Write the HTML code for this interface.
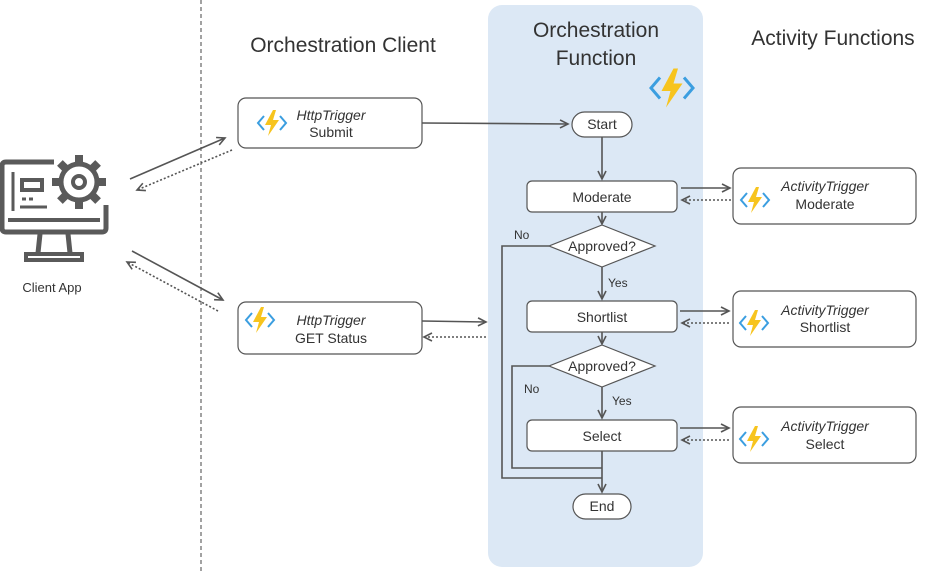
<!DOCTYPE html><html><head><style>body{margin:0;background:#fff}svg{display:block}text{font-family:"Liberation Sans",sans-serif;fill:#333}</style></head><body>
<svg width="937" height="572" viewBox="0 0 937 572" xmlns="http://www.w3.org/2000/svg">
<defs>
<marker id="a" markerWidth="12" markerHeight="12" refX="9" refY="5" orient="auto" markerUnits="userSpaceOnUse"><path d="M1,1 L9,5 L1,9" fill="none" stroke="#555" stroke-width="1.6"/></marker>
<g id="fn"><path d="M-8,-7 L-14,0 L-8,7 M8,-7 L14,0 L8,7" fill="none" stroke="#3b9ee0" stroke-width="2"/><path d="M1,-13 L-7,2 L-1,2 L-4,13 L7,-3 L1,-3 L4,-13Z" fill="#f7c41e"/></g>
<rect id="tooth" x="-4" y="-27" width="8" height="10" fill="#5a5a5a"/>
</defs>
<rect x="488" y="5" width="215" height="562" rx="14" fill="#dce8f5"/>
<line x1="201" y1="0" x2="201" y2="572" stroke="#444" stroke-dasharray="4,3"/>
<text x="343" y="52" font-size="21" text-anchor="middle">Orchestration Client</text>
<text x="596" y="37" font-size="21" text-anchor="middle">Orchestration</text>
<text x="596" y="65" font-size="21" text-anchor="middle">Function</text>
<text x="833" y="45" font-size="21" text-anchor="middle">Activity Functions</text>
<use href="#fn" transform="translate(672,88) scale(1.5)"/>
<g fill="none" stroke="#555" stroke-width="1.2">
<rect x="238" y="98" width="184" height="50" rx="8" fill="#fff"/>
<rect x="238" y="302" width="184" height="52" rx="8" fill="#fff"/>
<rect x="733" y="168" width="183" height="56" rx="8" fill="#fff"/>
<rect x="733" y="291" width="183" height="56" rx="8" fill="#fff"/>
<rect x="733" y="407" width="183" height="56" rx="8" fill="#fff"/>
<rect x="572" y="112" width="60" height="25" rx="12.5" fill="#fff"/>
<rect x="573" y="494" width="58" height="25" rx="12.5" fill="#fff"/>
<rect x="527" y="181" width="150" height="31" rx="5" fill="#fff"/>
<rect x="527" y="301" width="150" height="31" rx="5" fill="#fff"/>
<rect x="527" y="420" width="150" height="31" rx="5" fill="#fff"/>
<path d="M602,225 L655,246 L602,267 L549,246Z" fill="#fff"/>
<path d="M602,345 L655,366 L602,387 L549,366Z" fill="#fff"/>
</g>
<g fill="none" stroke="#555" stroke-width="1.6">
<line x1="130" y1="179" x2="225" y2="138" marker-end="url(#a)"/>
<line x1="232" y1="150" x2="137" y2="190" stroke-dasharray="2,2" marker-end="url(#a)"/>
<line x1="132" y1="251" x2="223" y2="300" marker-end="url(#a)"/>
<line x1="218" y1="311" x2="127" y2="262" stroke-dasharray="2,2" marker-end="url(#a)"/>
<line x1="422" y1="123" x2="568" y2="124" marker-end="url(#a)"/>
<line x1="422" y1="321" x2="486" y2="322" marker-end="url(#a)"/>
<line x1="486" y1="337" x2="424" y2="337" stroke-dasharray="2,2" marker-end="url(#a)"/>
<line x1="602" y1="137" x2="602" y2="179" marker-end="url(#a)"/>
<line x1="602" y1="212" x2="602" y2="224" marker-end="url(#a)"/>
<line x1="602" y1="267" x2="602" y2="299" marker-end="url(#a)"/>
<line x1="602" y1="332" x2="602" y2="344" marker-end="url(#a)"/>
<line x1="602" y1="387" x2="602" y2="418" marker-end="url(#a)"/>
<line x1="602" y1="451" x2="602" y2="492" marker-end="url(#a)"/>
<path d="M549,246 H502 V478 H602"/>
<path d="M549,366 H512 V468 H602"/>
<line x1="681" y1="188" x2="730" y2="188" marker-end="url(#a)"/>
<line x1="731" y1="200" x2="682" y2="200" stroke-dasharray="2,2" marker-end="url(#a)"/>
<line x1="680" y1="311" x2="729" y2="311" marker-end="url(#a)"/>
<line x1="729" y1="323" x2="682" y2="323" stroke-dasharray="2,2" marker-end="url(#a)"/>
<line x1="680" y1="428" x2="729" y2="428" marker-end="url(#a)"/>
<line x1="729" y1="440" x2="682" y2="440" stroke-dasharray="2,2" marker-end="url(#a)"/>
</g>
<g fill="none" stroke="#5a5a5a" stroke-width="5">
<path d="M54,162 H6 Q2,162 2,166 V228 Q2,232 6,232 H102 Q106,232 106,228 V205"/>
<line x1="13" y1="172" x2="13" y2="211" stroke-width="3"/>
<rect x="22" y="180" width="20" height="10" stroke-width="4"/>
<line x1="8" y1="220" x2="100" y2="220" stroke-width="4"/>
<line x1="22" y1="199" x2="26" y2="199" stroke-width="3"/>
<line x1="29" y1="199" x2="33" y2="199" stroke-width="3"/>
<line x1="20" y1="207" x2="47" y2="207" stroke-width="3"/>
<path d="M40,234 L38,253 M68,234 L70,253" stroke-width="5"/>
<rect x="26" y="254" width="56" height="6" stroke-width="4"/>
<circle cx="79" cy="182" r="18" stroke-width="5"/>
<circle cx="79" cy="182" r="6" stroke-width="4"/>
</g>
<g transform="translate(79,182)"><use href="#tooth"/><use href="#tooth" transform="rotate(45)"/><use href="#tooth" transform="rotate(90)"/><use href="#tooth" transform="rotate(135)"/><use href="#tooth" transform="rotate(180)"/><use href="#tooth" transform="rotate(225)"/><use href="#tooth" transform="rotate(270)"/><use href="#tooth" transform="rotate(315)"/></g>
<text x="52" y="292" font-size="13" text-anchor="middle">Client App</text>
<use href="#fn" transform="translate(272,123)"/>
<use href="#fn" transform="translate(260,320)"/>
<use href="#fn" transform="translate(755,200)"/>
<use href="#fn" transform="translate(754,323)"/>
<use href="#fn" transform="translate(754,439)"/>
<g font-size="14" text-anchor="middle">
<text x="331" y="120" font-style="italic">HttpTrigger</text><text x="331" y="137">Submit</text>
<text x="331" y="325" font-style="italic">HttpTrigger</text><text x="331" y="343">GET Status</text>
<text x="825" y="191" font-style="italic">ActivityTrigger</text><text x="825" y="209">Moderate</text>
<text x="825" y="315" font-style="italic">ActivityTrigger</text><text x="825" y="332">Shortlist</text>
<text x="825" y="431" font-style="italic">ActivityTrigger</text><text x="825" y="449">Select</text>
<text x="602" y="129">Start</text><text x="602" y="511">End</text>
<text x="602" y="202">Moderate</text><text x="602" y="322">Shortlist</text><text x="602" y="441">Select</text>
<text x="602" y="251">Approved?</text><text x="602" y="371">Approved?</text>
</g>
<g font-size="12"><text x="514" y="239">No</text><text x="608" y="287">Yes</text><text x="524" y="393">No</text><text x="612" y="405">Yes</text></g>
</svg></body></html>
